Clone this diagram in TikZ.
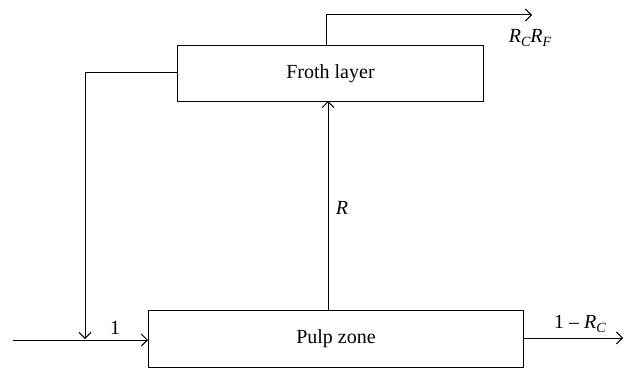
\documentclass[tikz,border=0pt]{standalone}
\usepackage{fontspec}
\setmainfont{Liberation Serif}
\usetikzlibrary{arrows.meta}
\newcommand{\sbs}[1]{\raisebox{-4.5pt}{\fontsize{14}{14}\selectfont\itshape #1}}
\begin{document}
\begin{tikzpicture}[x=1pt,y=-1pt,
  blk/.style={draw,line width=1pt,inner sep=0pt,anchor=north west},
  flow/.style={line width=1pt,-{Straight Barb[length=6pt,width=12pt,line width=1pt]}},
  lbl/.style={font=\fontsize{20}{24}\selectfont,inner sep=0pt}]
\useasboundingbox (0,0) rectangle (629,369);
\node[blk,minimum width=306pt,minimum height=56pt] (froth) at (177,45) {};
\node[lbl] (frothtxt) at (froth.center) {Froth layer};
\node[blk,minimum width=375pt,minimum height=57pt] (pulp) at (148,310) {};
\node[lbl] (pulptxt) at (pulp.center) {Pulp zone};
% top output
\coordinate (tstart) at (326,45);
\coordinate (tcorner) at (326,15);
\coordinate (tend) at (532,15);
\draw[flow] (tstart) -- (tcorner) -- (tend);
\node[lbl] (rcrf) at (530,38) {\textit{R}\sbs{C}\textit{R}\sbs{F}};
% feedback
\coordinate (fbstart) at (177,73);
\coordinate (fbcorner) at (85,73);
\coordinate (fbend) at (85,339);
\draw[flow] (fbstart) -- (fbcorner) -- (fbend);
% feed
\coordinate (feed) at (13,340);
\draw[flow] (feed) -- (pulp.west |- feed);
\node[lbl] (one) at (115,328) {1};
% R
\coordinate (rstart) at (328,310);
\draw[flow] (rstart) -- (328,101);
\node[lbl] (rl) at (342,208) {\textit{R}};
% output
\coordinate (oend) at (623,338);
\draw[flow] (pulp.east |- oend) -- (oend);
\node[lbl] (out) at (580,324) {1 – \textit{R}\sbs{C}};
\end{tikzpicture}
\end{document}
